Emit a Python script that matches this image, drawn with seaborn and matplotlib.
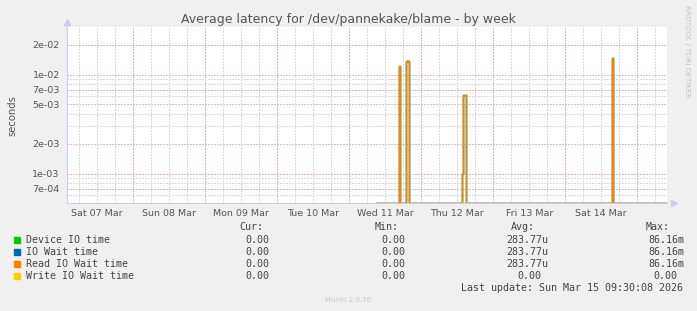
import numpy as np
import pandas as pd
import matplotlib
matplotlib.use("Agg")
import matplotlib.pyplot as plt
from matplotlib.patches import Rectangle
import seaborn as sns

# ---------------- data (hours since Sat 07 Mar 00:00) ----------------
title = "Average latency for /dev/pannekake/blame - by week"
series_names = ["Device IO time", "IO Wait time", "Read IO Wait time", "Write IO Wait time"]
series_colors = ["#00cc00", "#0066b3", "#ff8000", "#ffcc00"]

data_start_h = 105.0
data_end_h = 201.5
step_h = 0.5
spike_hours = [112.5, 115.0, 115.5, 133.5, 134.0, 134.5, 183.5]
spike_values = [0.0123, 0.0138, 0.0138, 0.0010, 0.0062, 0.0062, 0.0146]
write_spike_values = [0, 0, 0, 0, 0, 0, 0]

day_labels = ["Sat 07 Mar", "Sun 08 Mar", "Mon 09 Mar", "Tue 10 Mar",
              "Wed 11 Mar", "Thu 12 Mar", "Fri 13 Mar", "Sat 14 Mar"]
day_label_hours = [12, 36, 60, 84, 108, 132, 156, 180]
midnight_hours = [24, 48, 72, 96, 120, 144, 168, 192]

y_major = [7e-4, 1e-3, 2e-3, 5e-3, 7e-3, 1e-2, 2e-2]
y_major_labels = ["7e-04", "1e-03", "2e-03", "5e-03", "7e-03", "1e-02", "2e-02"]
y_minor = [6e-4, 8e-4, 9e-4, 3e-3, 4e-3, 6e-3, 8e-3, 9e-3]
y_limits = (5e-4, 3e-2)
x_limits = (1.8, 201.8)

legend_cur = ["0.00", "0.00", "0.00", "0.00"]
legend_min = ["0.00", "0.00", "0.00", "0.00"]
legend_avg = ["283.77u", "283.77u", "283.77u", "0.00"]
legend_max = ["86.16m", "86.16m", "86.16m", "0.00"]
last_update = "Last update: Sun Mar 15 09:30:08 2026"

# ---------------- build table ----------------
hours = np.arange(data_start_h, data_end_h + step_h / 2, step_h)
base = pd.Series(0.0, index=np.round(hours, 2))
read_vals = base.copy()
for h, v in zip(spike_hours, spike_values):
    read_vals.loc[round(h, 2)] = v
write_vals = base.copy()
for h, v in zip(spike_hours, write_spike_values):
    write_vals.loc[round(h, 2)] = v

frames = []
for name in series_names:
    vals = write_vals if name.startswith("Write") else read_vals
    frames.append(pd.DataFrame({"hour": vals.index, "value": vals.values, "series": name}))
df = pd.concat(frames, ignore_index=True)
# rrdtool draws zero values at the bottom of a log axis
df["plot_value"] = df["value"].clip(lower=y_limits[0])

# ---------------- figure ----------------
sns.set_theme(style="white")
plt.rcParams["font.family"] = ["DejaVu Sans"]
W, H = 697, 311
fig = plt.figure(figsize=(W / 100, H / 100), dpi=100, facecolor="#f0f0f0")
ax = fig.add_axes([66.7 / W, 1 - 203.3 / H, 600 / W, (203.3 - 27.3) / H])
ax.set_facecolor("white")
ax.set_yscale("log")
ax.set_xlim(*x_limits)
ax.set_ylim(*y_limits)

grid_minor = "#dadada"
grid_major = "#ecb6b6"
dot = (0, (1.4, 1.4))
gkw = dict(lw=0.72, ls=dot, zorder=0, antialiased=False)
for h in np.arange(6, 202, 6):
    if h in midnight_hours:
        continue
    if x_limits[0] < h < x_limits[1]:
        ax.axvline(h, color=grid_minor, **gkw)
for h in midnight_hours:
    ax.axvline(h, color=grid_major, **gkw)
for y in y_minor:
    ax.axhline(y, color=grid_minor, **gkw)
for y in y_major:
    ax.axhline(y, color=grid_major, **gkw)

sns.lineplot(data=df, x="hour", y="plot_value", hue="series", hue_order=series_names,
             palette=series_colors, estimator=None, drawstyle="steps-post",
             lw=1.0, legend=False, ax=ax, zorder=3)

ax.set_xticks(day_label_hours)
ax.set_xticklabels(day_labels)
ax.set_yticks(y_major)
ax.set_yticklabels(y_major_labels)
ax.set_yticks(y_minor, minor=True)
ax.yaxis.set_minor_formatter(matplotlib.ticker.NullFormatter())
ax.tick_params(axis="both", which="both", length=0, labelsize=6.8, colors="#555555")
ax.tick_params(axis="y", pad=5)
ax.tick_params(axis="x", pad=4)
ax.set_xlabel("")
ax.set_ylabel("seconds", fontsize=7.2, color="#555555", labelpad=11)

for s in ["top", "right"]:
    ax.spines[s].set_visible(False)
for s in ["left", "bottom"]:
    ax.spines[s].set_color("#c8ccf4")
    ax.spines[s].set_linewidth(0.8)
ax.plot([1.012], [0], marker=">", color="#c8ccf4", ms=4, transform=ax.transAxes, clip_on=False)
ax.plot([0], [1.03], marker="^", color="#c8ccf4", ms=4, transform=ax.transAxes, clip_on=False)

fig.text(348 / W, 1 - 19 / H, title, ha="center", va="center", fontsize=9.0, color="#555555")
fig.text(687 / W, 1 - 5 / H, "RRDTOOL / TOBI OETIKER", rotation=270, ha="center", va="top",
         fontsize=5.2, color="#c4c4c4")

mono = "DejaVu Sans Mono"
fs = 7.2
tc = "#454545"
row_y = [240, 252, 264, 276]
fig.text(263 / W, 1 - 227.5 / H, "Cur:", ha="right", va="center", family=mono, fontsize=fs, color=tc)
fig.text(399 / W, 1 - 227.5 / H, "Min:", ha="right", va="center", family=mono, fontsize=fs, color=tc)
fig.text(535 / W, 1 - 227.5 / H, "Avg:", ha="right", va="center", family=mono, fontsize=fs, color=tc)
fig.text(670 / W, 1 - 227.5 / H, "Max:", ha="right", va="center", family=mono, fontsize=fs, color=tc)
for i, name in enumerate(series_names):
    y = 1 - row_y[i] / H
    fig.patches.append(Rectangle((14 / W, 1 - (row_y[i] + 3) / H), 6 / W, 6 / H,
                                 transform=fig.transFigure, color=series_colors[i], figure=fig))
    fig.text(26 / W, y, name, ha="left", va="center", family=mono, fontsize=fs, color=tc)
    fig.text(269 / W, y, legend_cur[i], ha="right", va="center", family=mono, fontsize=fs, color=tc)
    fig.text(405 / W, y, legend_min[i], ha="right", va="center", family=mono, fontsize=fs, color=tc)
    r_avg = 548 if legend_avg[i].endswith("u") else 541.7
    fig.text(r_avg / W, y, legend_avg[i], ha="right", va="center", family=mono, fontsize=fs, color=tc)
    r_max = 684 if legend_max[i].endswith("m") else 677
    fig.text(r_max / W, y, legend_max[i], ha="right", va="center", family=mono, fontsize=fs, color=tc)
fig.text(683 / W, 1 - 288 / H, last_update, ha="right", va="center", family=mono, fontsize=fs, color=tc)
fig.text(348 / W, 1 - 300 / H, "Munin 2.0.76", ha="center", va="center", fontsize=5, color="#c8c8c8")

fig.savefig("out.png", dpi=100, facecolor=fig.get_facecolor())
